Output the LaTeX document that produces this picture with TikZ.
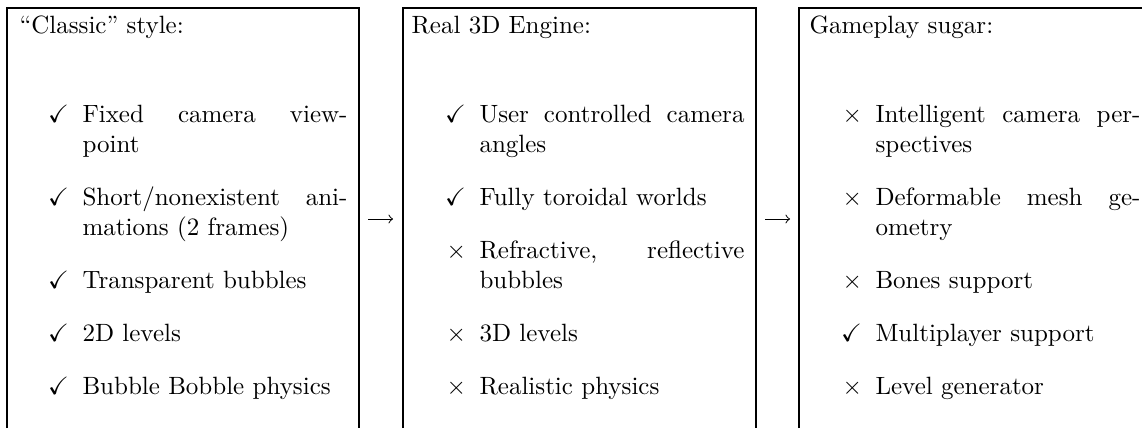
\documentclass[tikz,border=0pt]{standalone}
\usepackage{amssymb}
\begin{document}
\begin{tikzpicture}[x=0.4pt,y=-0.4pt,
  boxline/.style={line width=1pt},
  titletext/.style={anchor=base west, inner sep=0pt},
  itemtext/.style={anchor=base west, inner sep=0pt},
  itemlabel/.style={anchor=base east, inner sep=0pt},
  conn/.style={->, line width=0.4pt}]
\useasboundingbox (0,0) rectangle (1142,428);
\newcommand{\yes}{$\checkmark$}
\newcommand{\no}{$\times$}
\newcommand{\bbitem}[5]{%
  \node[itemlabel] (#1l) at ({#2-12.5},#3) {#4};
  \node[itemtext] (#1) at (#2,#3) {\parbox[t]{106pt}{\hyphenpenalty=10000 #5}};}
% boxes (open at the bottom)
\draw[boxline] (7,428) -- (7,8) -- (359,8) -- (359,428);
\draw[boxline] (403,428) -- (403,8) -- (756,8) -- (756,428);
\draw[boxline] (799,428) -- (799,8) -- (1142,8);
% titles
\node[titletext] (t1) at (19,33) {``Classic'' style:};
\node[titletext] (t2) at (411,33) {Real 3D Engine:};
\node[titletext] (t3) at (809,33) {Gameplay sugar:};
% column 1
\bbitem{a1}{82}{122}{\yes}{Fixed camera view-\linebreak point}
\bbitem{a2}{82}{205}{\yes}{Short/nonexistent ani-\linebreak mations (2 frames)}
\bbitem{a3}{82}{288}{\yes}{Transparent bubbles}
\bbitem{a4}{82}{341}{\yes}{2D levels}
\bbitem{a5}{82}{394}{\yes}{Bubble Bobble physics}
% column 2
\bbitem{b1}{479}{122}{\yes}{User controlled camera\linebreak angles}
\bbitem{b2}{479}{205}{\yes}{Fully toroidal worlds}
\bbitem{b3}{479}{258}{\no}{Refractive, reflective\linebreak bubbles}
\bbitem{b4}{479}{341}{\no}{3D levels}
\bbitem{b5}{479}{394}{\no}{Realistic physics}
% column 3
\bbitem{c1}{875}{122}{\no}{Intelligent camera per-\linebreak spectives}
\bbitem{c2}{875}{205}{\no}{Deformable mesh ge-\linebreak ometry}
\bbitem{c3}{875}{288}{\no}{Bones support}
\bbitem{c4}{875}{341}{\yes}{Multiplayer support}
\bbitem{c5}{875}{394}{\no}{Level generator}
% arrows between boxes
\coordinate (p1) at (368,219);
\coordinate (q1) at (393,219);
\coordinate (p2) at (765,219);
\coordinate (q2) at (790,219);
\draw[conn] (p1) -- (q1);
\draw[conn] (p2) -- (q2);
\end{tikzpicture}
\end{document}
